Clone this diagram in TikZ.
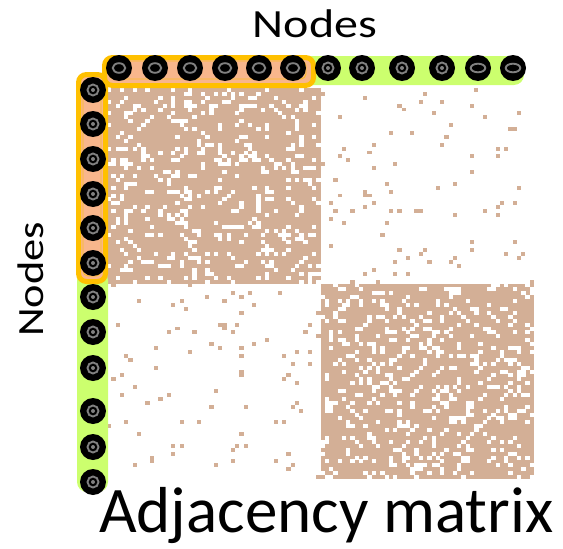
\documentclass[tikz,border=0pt]{standalone}
\usepackage{fontspec}
\setmainfont{Carlito}
\usepackage{graphicx}
\definecolor{cellc}{RGB}{211,175,150}
\definecolor{limec}{RGB}{204,255,110}
\definecolor{amberc}{RGB}{255,192,0}
\definecolor{peachc}{RGB}{248,182,140}
\definecolor{ringc}{RGB}{128,128,128}
\begin{document}
\begin{tikzpicture}[x=1pt,y=-1pt,
  vtx/.style={circle,fill=black,minimum size=26pt,inner sep=0pt},
  ringline/.style={ringc,line width=1.9pt},
  bandbox/.style={fill=peachc,draw=amberc,line width=5pt,rounded corners=8pt},
  innerbox/.style={draw=amberc!75!peachc,line width=0.9pt,rounded corners=5pt},
  strip/.style={fill=limec,rounded corners=10pt}]
\useasboundingbox (0,0) rectangle (563,549);

% adjacency matrix: two dense diagonal blocks with sparse links between them
\fill[cellc] (107,88) rectangle (320.5,283.5);
\fill[cellc] (320.5,283.5) rectangle (534,479);
\pgfmathsetseed{2024}
\foreach \i in {0,...,99}{
  \foreach \j in {\i,...,99}{
    \pgfmathsetmacro\rv{rnd}
    \ifnum\i<50 \def\blkA{0}\else\def\blkA{1}\fi
    \ifnum\j<50 \def\blkB{0}\else\def\blkB{1}\fi
    \ifx\blkA\blkB
      \ifdim\rv pt<0.2pt
        \fill[white] ({107+\j*4.27},{88+\i*3.91}) rectangle ++(4.35,3.99);
        \fill[white] ({107+\i*4.27},{88+\j*3.91}) rectangle ++(4.35,3.99);
      \fi
    \else
      \ifdim\rv pt<0.045pt
        \fill[cellc] ({107+\j*4.27},{88+\i*3.91}) rectangle ++(4.27,3.91);
        \fill[cellc] ({107+\i*4.27},{88+\j*3.91}) rectangle ++(4.27,3.91);
      \fi
    \fi
  }
}

% node strips
\fill[strip] (290,56) rectangle (524,85);
\fill[strip] (77,270) rectangle (108,492);
\filldraw[bandbox] (78.5,74.5) rectangle (105.5,281.5);
\filldraw[bandbox] (104.5,57.5) rectangle (313.5,85.5);
\draw[innerbox] (83,80) rectangle (101,276);
\draw[innerbox] (109,61) rectangle (306,79);

% nodes along the top
\foreach \n/\x in {1/119,2/155,3/190,4/225,5/259,6/293,7/328,8/362,9/402,10/442,11/478,12/513}
  \node[vtx] (t\n) at (\x,68) {};
% nodes down the left side
\foreach \n/\y in {1/90,2/124,3/159,4/194,5/228,6/263,7/297,8/332,9/368,10/411,11/447,12/482}
  \node[vtx] (l\n) at (93,\y) {};

% rings inside the nodes
\foreach \n in {t1,t2,t3,t4,t5,t6}
  \draw[ringline] (\n) ellipse (6.3pt and 4.8pt);
\foreach \n in {t11,t12}
  \draw[ringline] (\n) ellipse (7.3pt and 4.3pt);
\foreach \n in {t7,t8,t9,t10,l1,l2,l3,l4,l5,l6,l7,l8,l9,l10,l11,l12}{
  \draw[ringline] (\n) circle (5.5pt);
  \fill[ringc] (\n) circle (2pt);
}

% labels
\node[font=\fontsize{40}{42}\selectfont,anchor=base,inner sep=0pt] (toplbl) at (315,37.5) {\scalebox{1.2}[1]{Nodes}};
\node[font=\fontsize{37}{40}\selectfont,rotate=90,anchor=base,inner sep=0pt] (sidelbl) at (43.5,279.5) {\scalebox{1.2}[1]{Nodes}};
\node[font=\fontsize{65}{70}\selectfont,anchor=base west,inner sep=0pt] (caption) at (99,532) {Adjacency matrix};
\end{tikzpicture}
\end{document}
